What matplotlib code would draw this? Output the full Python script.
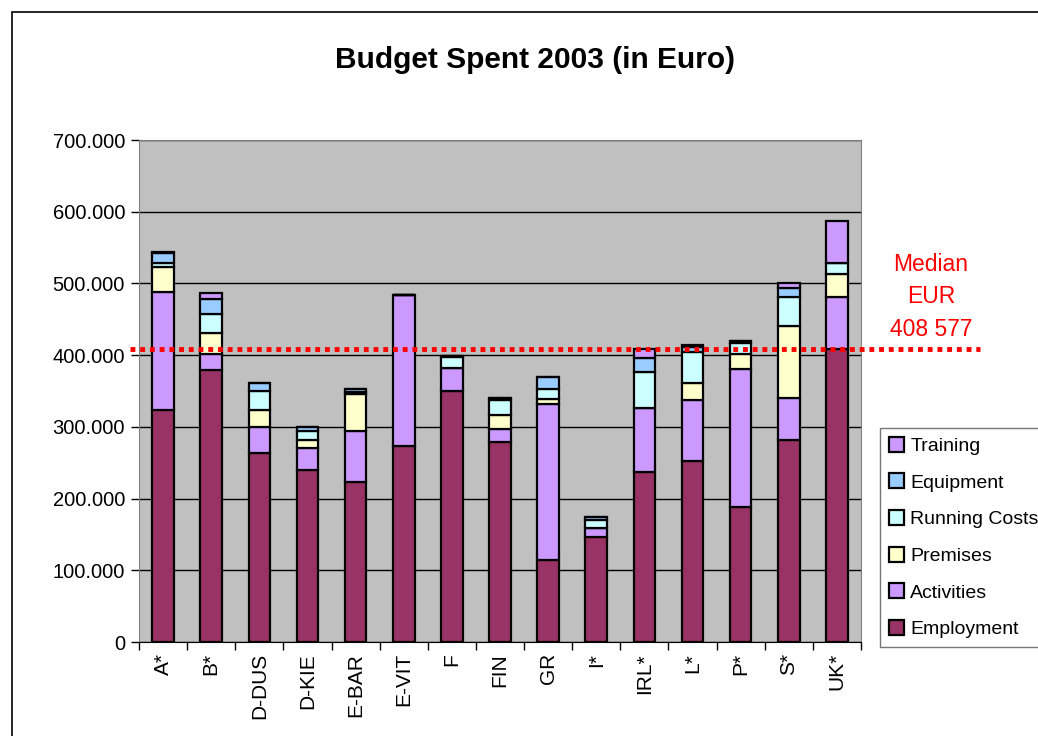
import matplotlib
matplotlib.use("Agg")
import matplotlib.pyplot as plt
import numpy as np
from matplotlib.patches import Rectangle
from matplotlib.ticker import FuncFormatter

plt.rcParams['font.family'] = ['Liberation Sans', 'DejaVu Sans']

laender = ["A*", "B*", "D-DUS", "D-KIE", "E-BAR", "E-VIT", "F", "FIN", "GR",
           "I*", "IRL*", "L*", "P*", "S*", "UK*"]

employment = [323500, 379300, 263100, 239900, 222700, 273800, 350000, 278500,
              114300, 146800, 236600, 252900, 188700, 281700, 408600]
activities = [165000, 21900, 37200, 31100, 72000, 210100, 32500, 19000,
              217600, 11700, 90200, 84600, 191600, 58100, 72100]
premises = [34900, 29300, 23200, 10700, 50700, 0, 0, 18600,
            7000, 0, 0, 24100, 20900, 101300, 32500]
running_costs = [4600, 26900, 27000, 13000, 3700, 0, 14500, 21400,
                 14300, 11600, 50200, 42400, 16200, 40400, 14800]
equipment = [14000, 20900, 11100, 4700, 3300, 0, 2000, 2800,
             16400, 4700, 19600, 7000, 2800, 12600, 0]
training = [2300, 7900, 0, 0, 1000, 0, 0, 0,
            0, 0, 11977, 3200, 0, 6100, 59500]

reihen = [
    ("Employment", employment, "#993366"),
    ("Activities", activities, "#CC99FF"),
    ("Premises", premises, "#FFFFCC"),
    ("Running Costs", running_costs, "#CCFFFF"),
    ("Equipment", equipment, "#99CCFF"),
    ("Training", training, "#CC99FF"),
]

summen = np.sum([r[1] for r in reihen], axis=0)
median = np.median(summen)

fig = plt.figure(figsize=(10.38, 7.36), dpi=100)
ax = fig.add_axes([139 / 1038, 1 - 642 / 736, 722 / 1038, 502 / 736])
ax.set_facecolor("#C0C0C0")

x = np.arange(len(laender))
unten = np.zeros(len(laender))
balken = []
for name, werte, farbe in reihen:
    b = ax.bar(x, werte, width=0.45, bottom=unten, color=farbe,
               edgecolor="black", linewidth=1.6, label=name, zorder=3)
    balken.append(b)
    unten = unten + np.array(werte)

ax.set_xlim(-0.5, len(laender) - 0.5)
ax.set_ylim(0, 700000)
ax.set_yticks(np.arange(0, 700001, 100000))
ax.yaxis.set_major_formatter(FuncFormatter(
    lambda v, p: "0" if v == 0 else f"{int(v):,}".replace(",", ".")))
ax.grid(axis="y", color="black", linewidth=1, zorder=1)
ax.set_axisbelow(True)

ax.set_xticks(x)
ax.set_xticklabels(laender, rotation=90, fontsize=15)
ax.tick_params(axis="x", length=0, pad=8)
ax.set_xticks(np.arange(-0.5, len(laender), 1), minor=True)
ax.tick_params(axis="x", which="minor", length=6, color="black", width=1)
ax.tick_params(axis="y", labelsize=14.5, length=6, width=1, pad=4)

for s in ["top", "right"]:
    ax.spines[s].set_color("#808080")
ax.spines["left"].set_color("#808080")
ax.spines["bottom"].set_color("black")

# Medianlinie ueber alle Gesamtbudgets
trans = ax.get_yaxis_transform()
ax.plot([-0.012, 1.165], [median, median], transform=trans, color="red",
        linewidth=3.5, linestyle=(0, (1.0, 1.0)), clip_on=False, zorder=5)
fig.text(931 / 1038, 1 - 297 / 736,
         "Median\nEUR\n" + f"{int(round(median)):,}".replace(",", " "),
         color="red", fontsize=16.5, ha="center", va="center", linespacing=1.55)

fig.suptitle("Budget Spent 2003 (in Euro)", fontsize=21.5, fontweight="bold",
             x=535 / 1038, y=1 - 60 / 736, va="center")

handles = [b for b in balken][::-1]
namen = [r[0] for r in reihen][::-1]
leg = fig.legend(handles, namen, loc="upper left",
                 bbox_to_anchor=(880 / 1038, 1 - 428 / 736), fontsize=14,
                 handlelength=0.8, handleheight=0.8, handletextpad=0.3,
                 labelspacing=0.95, borderpad=0.45, borderaxespad=0,
                 fancybox=False, frameon=True)
leg.get_frame().set_edgecolor("#555555")
leg.get_frame().set_linewidth(1)
for h in leg.legend_handles:
    h.set_linewidth(1.6)

# Rahmen um das ganze Diagramm
fig.add_artist(Rectangle((12 / 1038, -0.05), 1.2, 1 - 12 / 736 + 0.05,
                         transform=fig.transFigure, fill=False,
                         edgecolor="black", linewidth=1.2))

fig.savefig("out.png", dpi=100)
